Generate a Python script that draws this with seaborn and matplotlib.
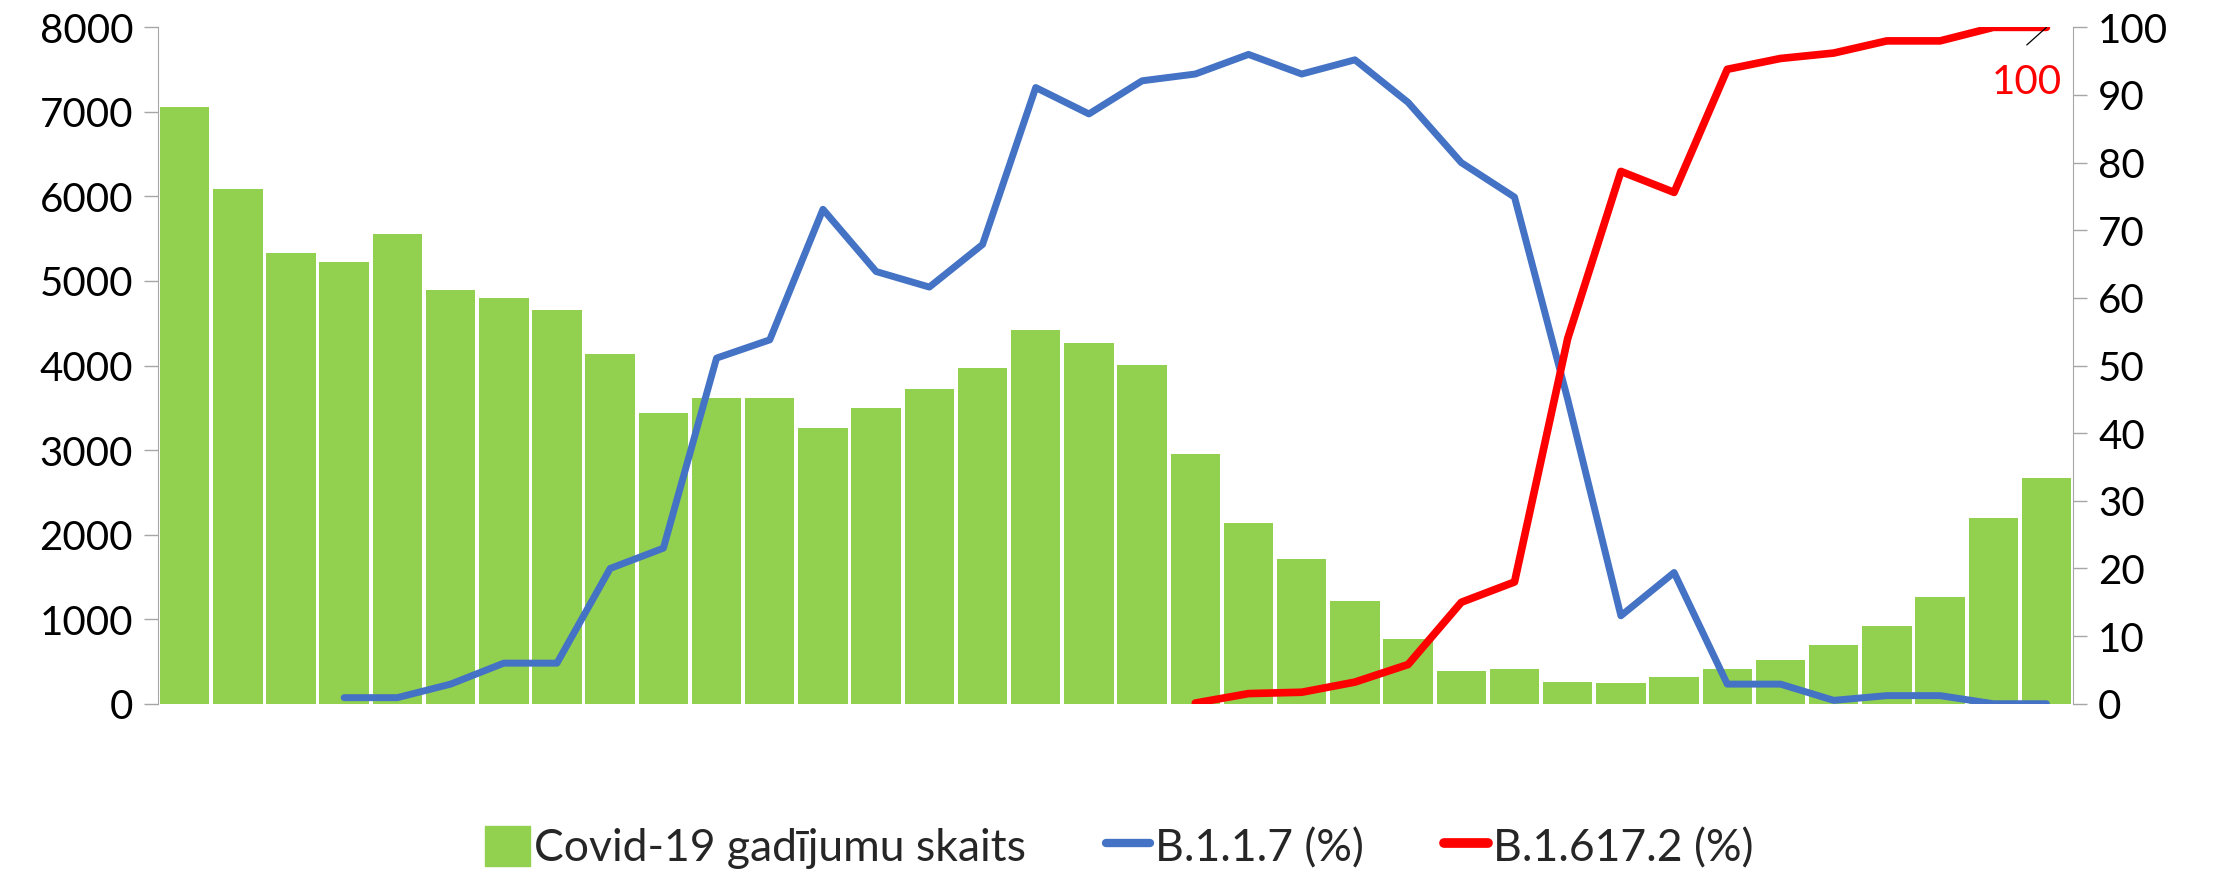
import numpy as np
import pandas as pd
import seaborn as sns
import matplotlib.pyplot as plt
from matplotlib.patches import Patch
from matplotlib.lines import Line2D

# weekly values
cases = [7063, 6087, 5335, 5226, 5553, 4899, 4801, 4659, 4136, 3444,
         3619, 3619, 3264, 3493, 3722, 3973, 4425, 4272, 4005, 2959,
         2142, 1706, 1210, 768, 387, 409, 256, 245, 316, 409,
         512, 692, 916, 1264, 2191, 2665]
alpha_pct = [np.nan, np.nan, np.nan, 0.9, 0.9, 2.9, 6, 6, 20, 23,
             51.1, 53.8, 73.1, 63.9, 61.6, 67.9, 91.1, 87.2, 92.1, 93.1,
             96, 93.1, 95.2, 88.9, 80, 74.9, 45, 13, 19.4, 2.9,
             2.9, 0.5, 1.2, 1.2, 0, 0]
delta_pct = [np.nan] * 19 + [0.1, 1.5, 1.7, 3.2, 5.8, 15, 18, 54, 78.7, 75.6,
                             93.8, 95.4, 96.2, 98, 98, 100, 100]
week = list(range(len(cases)))

df = pd.DataFrame({'week': week, 'cases': cases,
                   'alpha': alpha_pct, 'delta': delta_pct})

GREEN = '#92D050'
BLUE = '#4472C4'
RED = '#FF0000'
GREY = '#A6A6A6'

sns.set_style('white')
plt.rcParams['font.family'] = ['Lato', 'DejaVu Sans']
fs = 29

fig = plt.figure(figsize=(22.16, 8.705), dpi=100)
ax = fig.add_axes([0.0713, 0.191, 0.8642, 0.777])

sns.barplot(data=df, x='week', y='cases', color=GREEN, saturation=1,
            width=0.93, edgecolor='none', ax=ax)
ax.set_xlim(-0.5, len(cases) - 0.5)
ax.set_ylim(0, 8000)
ax.set_yticks(range(0, 8001, 1000))
ax.set_xticks([])
ax.set_xlabel('')
ax.set_ylabel('')

ax2 = ax.twinx()
sns.lineplot(data=df, x='week', y='alpha', color=BLUE, linewidth=5, ax=ax2)
sns.lineplot(data=df, x='week', y='delta', color=RED, linewidth=5.5, ax=ax2)
ax2.set_ylim(0, 100)
ax2.set_yticks(range(0, 101, 10))
ax2.set_xlim(-0.5, len(cases) - 0.5)
ax2.set_ylabel('')
ax2.set_xlabel('')

for a in (ax, ax2):
    for s in a.spines.values():
        s.set_visible(False)
    a.tick_params(axis='y', labelsize=fs, length=10, width=1, color=GREY,
                  labelcolor='black', pad=8)
ax.spines['left'].set_visible(True)
ax.spines['left'].set_color(GREY)
ax2.spines['right'].set_visible(True)
ax2.spines['right'].set_color(GREY)
ax.tick_params(axis='y', left=True, right=False)
ax2.tick_params(axis='y', right=True, left=False)

# data label with its leader line
ax2.plot([34.63, 35], [97.4, 100], color='black', lw=0.9)
ax2.text(34.63, 91.9, '100', color=RED, fontsize=fs,
         ha='center', va='center')

handles = [Patch(color=GREEN),
           Line2D([], [], color=BLUE, linewidth=6),
           Line2D([], [], color=RED, linewidth=7)]
labels = ['Covid-19 gadījumu skaits', 'B.1.1.7 (%)', 'B.1.617.2 (%)']
fig.legend(handles, labels, loc='center', bbox_to_anchor=(0.505, 0.026),
           ncol=3, frameon=False, fontsize=32, handlelength=1.0,
           handleheight=1.0, handletextpad=0.1, columnspacing=1.8)

fig.savefig('out.png', dpi=100)
